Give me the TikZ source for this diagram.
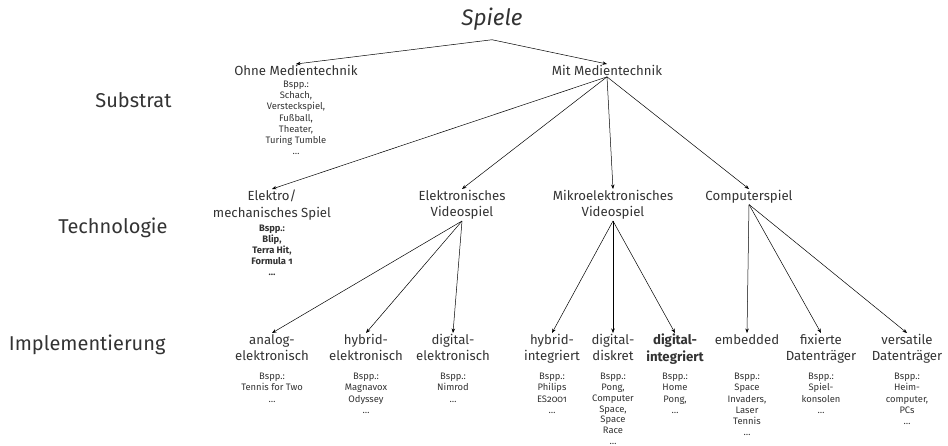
\documentclass[tikz,border=0pt]{standalone}
\usepackage{fontspec}
\setmainfont{Fira Sans}[Numbers=OldStyle]
\usetikzlibrary{positioning,arrows.meta}

\tikzset{
  kat/.style={align=center, anchor=north, inner sep=1pt, text=black!80,
    font=\fontsize{13.2}{16.5}\selectfont},
  bsp/.style={align=center, anchor=north, inner sep=1pt, text=black!80,
    font=\fontsize{9.4}{11.2}\selectfont},
  ebene/.style={anchor=east, text=black!80, font=\fontsize{20}{22}\selectfont},
  pfeil/.style={-{Stealth[length=4.5pt,width=3.5pt]}, line width=0.5pt},
}

\begin{document}
\begin{tikzpicture}[x=1pt,y=-1pt]
\useasboundingbox (0,0) rectangle (948,446);
% row heights
\newcommand{\ysub}{64}
\newcommand{\ytech}{189}
\newcommand{\yimpl}{333}
\newcommand{\ybsp}{372}

% Root
\node[text=black!80, font=\fontsize{22.5}{26}\selectfont\itshape] (spiele) at (492,19) {Spiele};

% Ebenen
\node[ebene] (substrat) at (175,100) {Substrat};
\node[ebene] (technologie) at (171,228) {Technologie};
\node[ebene] (implementierung) at (169,345) {Implementierung};

% Substrat
\node[kat] (ohne) at (296,\ysub) {Ohne Medientechnik};
\node[bsp, below=3pt of ohne] (ohneB) {Bspp.:\\Schach,\\Versteckspiel,\\Fußball,\\Theater,\\Turing Tumble\\…};
\node[kat] (mit) at (607,\ysub) {Mit Medientechnik};
\draw[pfeil] ([yshift=-6pt]spiele.south) -- (ohne.north);
\draw[pfeil] ([yshift=-6pt]spiele.south) -- (mit.north);

% Technologie
\node[kat] (elektro) at (272,\ytech) {Elektro/\\mechanisches Spiel};
\node[bsp, below=2pt of elektro, font=\fontsize{9.4}{11}\selectfont\bfseries] (elektroB) {Bspp.:\\Blip,\\Terra Hit,\\Formula 1\\…};
\node[kat] (elvideo) at (462,\ytech) {Elektronisches\\Videospiel};
\node[kat] (mikro) at (613,\ytech) {Mikroelektronisches\\Videospiel};
\node[kat] (computer) at (749,\ytech) {Computerspiel};
\foreach \t in {elektro,elvideo,mikro,computer}
  \draw[pfeil] (mit.south) -- (\t.north);

% Implementierung
\node[kat] (analog) at (272,\yimpl) {analog-\\elektronisch};
\node[bsp] (analogB) at (272,\ybsp) {Bspp.:\\Tennis for Two\\…};
\node[kat] (hybridel) at (366,\yimpl) {hybrid-\\elektronisch};
\node[bsp] (hybridelB) at (366,\ybsp) {Bspp.:\\Magnavox\\Odyssey\\…};
\node[kat] (digitalel) at (453,\yimpl) {digital-\\elektronisch};
\node[bsp] (digitalelB) at (453,\ybsp) {Bspp.:\\Nimrod\\…};
\node[kat] (hybridint) at (552,\yimpl) {hybrid-\\integriert};
\node[bsp] (hybridintB) at (552,\ybsp) {Bspp.:\\Philips\\ES2001\\…};
\node[kat] (digdisk) at (613,\yimpl) {digital-\\diskret};
\node[bsp, font=\fontsize{9.4}{10.8}\selectfont] (digdiskB) at (613,\ybsp) {Bspp.:\\Pong,\\Computer\\Space,\\Space\\Race\\…};
\node[kat, font=\fontsize{13.2}{16.5}\selectfont\bfseries] (digint) at (675,\yimpl) {digital-\\integriert};
\node[bsp] (digintB) at (675,\ybsp) {Bspp.:\\Home\\Pong,\\…};
\node[kat] (embedded) at (747,\yimpl) {embedded};
\node[bsp] (embeddedB) at (747,\ybsp) {Bspp.:\\Space\\Invaders,\\Laser\\Tennis\\…};
\node[kat] (fixiert) at (821,\yimpl) {fixierte\\Datenträger};
\node[bsp] (fixiertB) at (821,\ybsp) {Bspp.:\\Spiel-\\konsolen\\…};
\node[kat] (versatil) at (907,\yimpl) {versatile\\Datenträger};
\node[bsp] (versatilB) at (907,\ybsp) {Bspp.:\\Heim-\\computer,\\PCs\\…};

% Pfeile
\foreach \t in {analog,hybridel,digitalel}
  \draw[pfeil] (elvideo.south) -- (\t.north);
\foreach \t in {hybridint,digdisk,digint}
  \draw[pfeil] (mikro.south) -- (\t.north);
\foreach \t in {embedded,fixiert,versatil}
  \draw[pfeil] (computer.south) -- (\t.north);
\end{tikzpicture}
\end{document}
